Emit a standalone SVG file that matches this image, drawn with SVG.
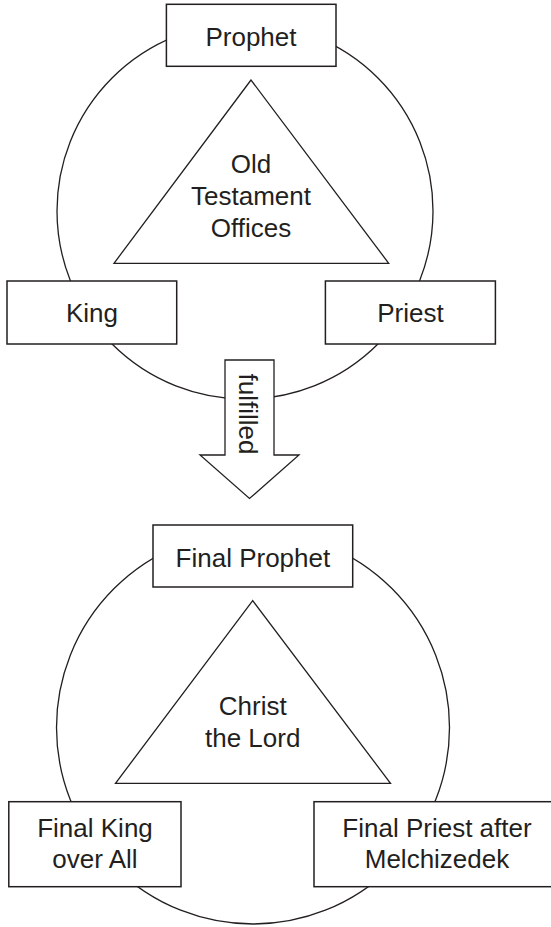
<svg xmlns="http://www.w3.org/2000/svg" width="551" height="927" viewBox="0 0 551 927">
<style>
.ring{fill:none;stroke:#231f20;stroke-width:1.3}
.tri{fill:#fff;stroke:#231f20;stroke-width:1.3}
.box{fill:#fff;stroke:#231f20;stroke-width:1.5}
.arrow{fill:#fff;stroke:#231f20;stroke-width:1.3}
text{font-family:"Liberation Sans",Arial,Helvetica,sans-serif;font-size:26px;fill:#231f20;text-anchor:middle}
</style>
<rect width="551" height="927" fill="#fff"/>
<g id="connectors">
  <circle class="ring" cx="245" cy="211" r="188"/>
  <circle class="ring" cx="253" cy="727.5" r="196.5"/>
  <g id="fulfilled-arrow">
    <path class="arrow" d="M225,360 L274,360 L274,455 L299,455 L249.5,498.5 L200,455 L225,455 Z"/>
    <text transform="translate(239,414) rotate(90)">fulfilled</text>
  </g>
</g>
<g id="ot-offices">
  <polygon class="tri" points="251,80 114,263.3 388.7,263.3"/>
  <text x="251" y="173.3">Old</text>
  <text x="251" y="205.3">Testament</text>
  <text x="251" y="237.3">Offices</text>
</g>
<g id="prophet">
  <rect class="box" x="166.4" y="4.3" width="169.6" height="62"/>
  <text x="251" y="45.7">Prophet</text>
</g>
<g id="king">
  <rect class="box" x="7" y="281" width="169.7" height="63"/>
  <text x="92" y="321.7">King</text>
</g>
<g id="priest">
  <rect class="box" x="325.4" y="281" width="170" height="63"/>
  <text x="410.4" y="321.7">Priest</text>
</g>
<g id="christ-the-lord">
  <polygon class="tri" points="252.7,600.7 115.5,783.3 390.5,783.3"/>
  <text x="252.7" y="715">Christ</text>
  <text x="252.7" y="747.3">the Lord</text>
</g>
<g id="final-prophet">
  <rect class="box" x="153" y="525" width="199.7" height="62"/>
  <text x="252.9" y="566.7">Final Prophet</text>
</g>
<g id="final-king">
  <rect class="box" x="8.8" y="801.7" width="172.2" height="85"/>
  <text x="95" y="836.7">Final King</text>
  <text x="95" y="868.3">over All</text>
</g>
<g id="final-priest">
  <rect class="box" x="314" y="801.7" width="246" height="85"/>
  <text x="437" y="836.7">Final Priest after</text>
  <text x="437" y="868.3">Melchizedek</text>
</g>
</svg>
